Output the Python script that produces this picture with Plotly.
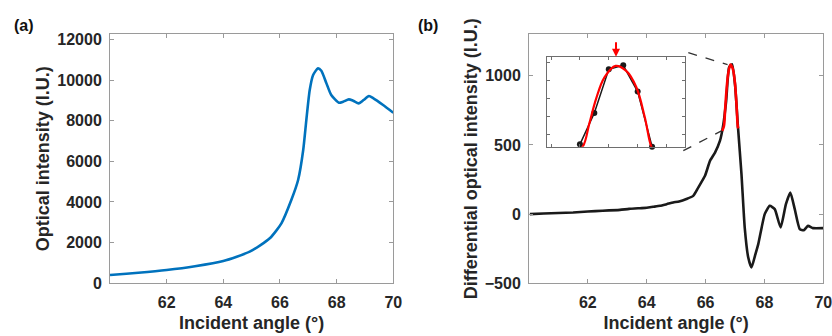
import plotly.graph_objects as go

# ---- Panel (a): optical intensity ----
angle_a = [60.0, 60.12, 61.0, 62.0, 63.0, 64.0, 64.93, 65.64, 66.05, 66.40, 66.64,
           66.82, 66.93, 67.05, 67.17, 67.34, 67.46, 67.64, 67.81, 68.08, 68.23,
           68.43, 68.58, 68.78, 68.95, 69.14, 69.30, 69.64, 70.0]
intensity_a = [410, 423, 520, 654, 840, 1097, 1554, 2213, 2951, 4097, 5082,
               6557, 8033, 9508, 10245, 10574, 10459, 9836, 9262, 8883, 8934,
               9049, 8984, 8852, 9016, 9211, 9098, 8770, 8390]

# ---- Panel (b): differential optical intensity ----
angle_b = [60.03, 60.5, 61.0, 61.5, 62.0, 62.5, 63.09, 63.4, 63.77, 64.0, 64.22,
           64.45, 64.68, 64.9, 65.1, 65.35, 65.58, 65.75, 65.98, 66.15, 66.32,
           66.49, 66.6, 66.7, 66.8, 66.9, 67.0, 67.1, 67.22, 67.33, 67.45, 67.56,
           67.68, 67.79, 68.01, 68.18, 68.35, 68.55, 68.73, 68.88, 69.03, 69.20,
           69.34, 69.48, 69.65, 69.99]
diff_b = [0, 5, 8, 12, 19, 24, 31, 38, 43, 46, 53,
          60, 72, 84, 92, 110, 132, 192, 277, 385, 445,
          531, 645, 819, 1062, 1084, 938, 632, 289, -97, -314, -386,
          -300, -217, 0, 60, 36, -97, 72, 156, 36, -108,
          -116, -85, -101, -101]

# inset: sampled points near the peak and the fitted curve
peak_angle = [66.6, 66.7, 66.8, 66.9, 67.0, 67.1]
peak_diff = [645, 819, 1062, 1084, 938, 632]
fit_angle = [66.56, 66.619, 66.665, 66.712, 66.770, 66.847, 66.921, 66.991, 67.049, 67.095, 67.11]
fit_diff = [602, 632, 760, 898, 1017, 1081, 1053, 962, 797, 632, 620]
fit_peak_angle = 66.85

xticks_main = [62, 64, 66, 68, 70]
yticks_a = [0, 2000, 4000, 6000, 8000, 10000, 12000]
yticks_b = [-500, 0, 500, 1000]

W, H = 832, 336
ML, MR, MT, MB = 60, 0, 0, 52
FONT = "Liberation Sans, Arial, sans-serif"
TXT = "#262626"
FRAME = "#9a9a9a"


def fx(px):
    return (px - ML) / (W - ML - MR)


def fy(py):
    return (H - MB - py) / (H - MB - MT)


dom_a_x = [fx(110), fx(393.3)]
dom_b_x = [fx(529), fx(823.3)]
dom_y = [max(0.0, fy(283.3)), fy(34.3)]
dom_in_x = [fx(546.7), fx(685.3)]
dom_in_y = [fy(146.7), fy(56.7)]

fig = go.Figure()
fig.add_trace(go.Scatter(x=angle_a, y=intensity_a, mode="lines",
                         line=dict(color="#0072BD", width=2.6, shape="spline", smoothing=0.6),
                         xaxis="x", yaxis="y", showlegend=False))
fig.add_trace(go.Scatter(x=angle_b, y=diff_b, mode="lines",
                         line=dict(color="#1a1a1a", width=2.6, shape="spline", smoothing=0.5),
                         xaxis="x2", yaxis="y2", showlegend=False))
fig.add_trace(go.Scatter(x=fit_angle, y=fit_diff, mode="lines",
                         line=dict(color="#ff0000", width=2.6, shape="spline"),
                         xaxis="x2", yaxis="y2", showlegend=False))
# inset
fig.add_trace(go.Scatter(x=peak_angle, y=peak_diff, mode="lines+markers",
                         line=dict(color="#1a1a1a", width=1.5),
                         marker=dict(color="#1a1a1a", size=6),
                         xaxis="x3", yaxis="y3", showlegend=False, cliponaxis=False))
fig.add_trace(go.Scatter(x=fit_angle, y=fit_diff, mode="lines",
                         line=dict(color="#ff0000", width=2.2, shape="spline"),
                         xaxis="x3", yaxis="y3", showlegend=False))

tickfont = dict(family=FONT, size=16, color=TXT, weight="bold")
titlefont = dict(family=FONT, size=18, color=TXT, weight="bold")

main_axis = dict(showline=True, linecolor=FRAME, linewidth=1, mirror="ticks",
                 ticks="inside", ticklen=4, tickcolor=FRAME, showgrid=False,
                 zeroline=False, tickfont=tickfont, tickformat="d", automargin=False,
                 ticklabeloverflow="allow")
inset_axis = dict(showticklabels=False, showline=True, linecolor="#6e6e6e", linewidth=1,
                  mirror="ticks", ticks="inside", ticklen=3, tickcolor="#6e6e6e",
                  showgrid=False, zeroline=False, automargin=False)

x_range = [60.0, 70.0]
y_range_b = [-500, 1300]
fig.update_layout(
    width=W, height=H, margin=dict(l=ML, r=MR, t=MT, b=MB), autosize=False,
    paper_bgcolor="white", plot_bgcolor="white",
    xaxis=dict(domain=dom_a_x, anchor="y", range=x_range, tickvals=xticks_main,
               title=dict(text="Incident angle (°)", font=titlefont, standoff=6),
               ticklabelstandoff=4, **main_axis),
    yaxis=dict(domain=dom_y, anchor="x", range=[0, 12250], tickvals=yticks_a,
               title=dict(text="Optical intensity (I.U.)", font=titlefont, standoff=2),
               ticklabelstandoff=4, **main_axis),
    xaxis2=dict(domain=dom_b_x, anchor="y2", range=x_range, tickvals=xticks_main,
                title=dict(text="Incident angle (°)", font=titlefont, standoff=6),
                ticklabelstandoff=4, **main_axis),
    yaxis2=dict(domain=dom_y, anchor="x2", range=y_range_b, tickvals=yticks_b,
                title=dict(text="Differential optical intensity (I.U.)", font=titlefont, standoff=2),
                ticklabelstandoff=4, **main_axis),
    xaxis3=dict(domain=dom_in_x, anchor="y3", range=[66.37, 67.33], dtick=0.2, tick0=66.4,
                **inset_axis),
    yaxis3=dict(domain=dom_in_y, anchor="x3", range=[632, 1132], dtick=100, tick0=700,
                **inset_axis),
)

# red arrow marking the fitted peak
fig.add_annotation(x=fit_peak_angle, y=1132, xref="x3", yref="y3", ax=0, ay=-16,
                   text="", showarrow=True, arrowhead=2, arrowsize=0.8, arrowwidth=2,
                   arrowcolor="#ff0000")


# dashed connectors from inset corners to the peak region on the main axes
def px_to_x2(px):
    f = (fx(px) - dom_b_x[0]) / (dom_b_x[1] - dom_b_x[0])
    return x_range[0] + f * (x_range[1] - x_range[0])


def py_to_y2(py):
    f = (fy(py) - dom_y[0]) / (dom_y[1] - dom_y[0])
    return y_range_b[0] + f * (y_range_b[1] - y_range_b[0])


top_start = (px_to_x2(688.3), py_to_y2(52.7))
bot_start = (px_to_x2(683.3), py_to_y2(150.7))
peak_i = fit_diff.index(max(fit_diff))
fig.add_shape(type="line", xref="x2", yref="y2", x0=top_start[0], y0=top_start[1],
              x1=fit_angle[peak_i] - 0.1, y1=fit_diff[peak_i],
              line=dict(color="#333333", width=1.3, dash="dash"))
fig.add_shape(type="line", xref="x2", yref="y2", x0=bot_start[0], y0=bot_start[1],
              x1=fit_angle[0] - 0.02, y1=fit_diff[0],
              line=dict(color="#333333", width=1.3, dash="dash"))

# panel labels
fig.add_annotation(x=fx(24), y=fy(26), xref="paper", yref="paper", text="(a)",
                   xanchor="center", yanchor="middle", showarrow=False,
                   font=dict(family=FONT, size=16, color="#111", weight="bold"))
fig.add_annotation(x=fx(428), y=fy(26), xref="paper", yref="paper", text="(b)",
                   xanchor="center", yanchor="middle", showarrow=False,
                   font=dict(family=FONT, size=16, color="#111", weight="bold"))

fig.write_html("out.html", config={"displayModeBar": False},
               post_script="document.body.style.margin='0px';")
